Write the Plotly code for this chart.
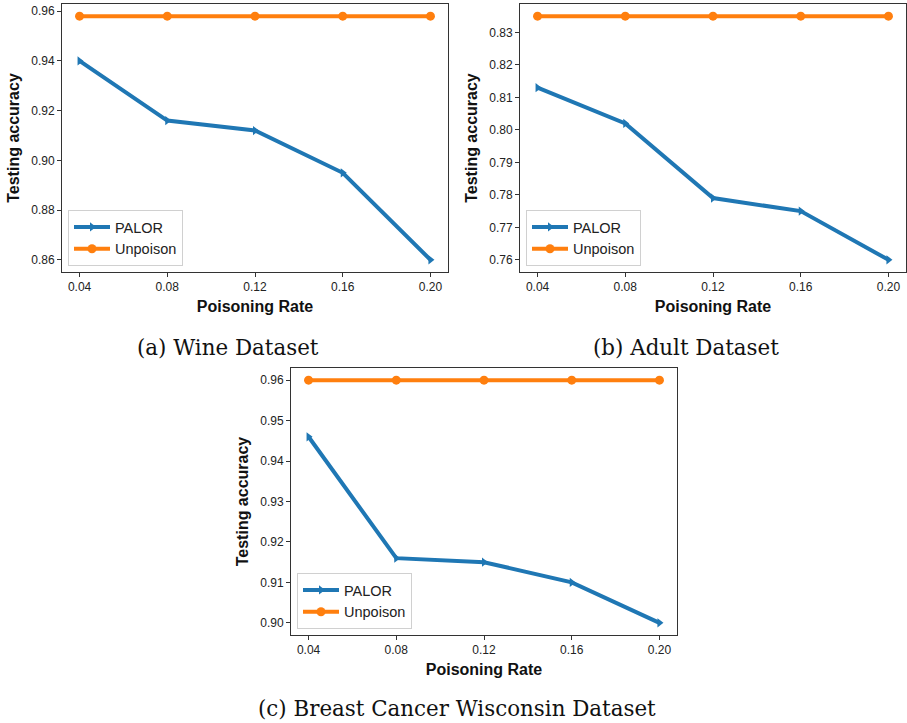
import plotly.graph_objects as go

# Poisoning rates shared by all three experiments
rates = [0.04, 0.08, 0.12, 0.16, 0.20]
rate_labels = ["0.04", "0.08", "0.12", "0.16", "0.20"]

# Testing accuracy per dataset
wine_palor = [0.940, 0.916, 0.912, 0.895, 0.860]
wine_unpoison = [0.958, 0.958, 0.958, 0.958, 0.958]

adult_palor = [0.813, 0.802, 0.779, 0.775, 0.760]
adult_unpoison = [0.835, 0.835, 0.835, 0.835, 0.835]

cancer_palor = [0.946, 0.916, 0.915, 0.910, 0.900]
cancer_unpoison = [0.960, 0.960, 0.960, 0.960, 0.960]

captions = ["(a) Wine Dataset", "(b) Adult Dataset", "(c) Breast Cancer Wisconsin Dataset"]

BLUE = "#1f77b4"
ORANGE = "#ff7f0e"
W, H = 907, 723

panels = [
    # (palor, unpoison, x-domain px, y-domain px (top, bottom), y ticks)
    (wine_palor, wine_unpoison, (62, 448), (4, 272), [0.86, 0.88, 0.90, 0.92, 0.94, 0.96]),
    (adult_palor, adult_unpoison, (520, 906), (4, 272), [0.76, 0.77, 0.78, 0.79, 0.80, 0.81, 0.82, 0.83]),
    (cancer_palor, cancer_unpoison, (291, 677), (368, 635), [0.90, 0.91, 0.92, 0.93, 0.94, 0.95, 0.96]),
]

fig = go.Figure()
sans = "Liberation Sans, Arial, sans-serif"
tick_font = dict(family=sans, size=12, color="#222")
title_font = dict(family=sans, size=16, color="#111")

for i, (palor, unp, (x0, x1), (yt, yb), yticks) in enumerate(panels):
    n = "" if i == 0 else str(i + 1)
    xa, ya = "x" + n, "y" + n
    fig.add_trace(go.Scatter(
        x=rates, y=palor, mode="lines+markers", name="PALOR",
        line=dict(color=BLUE, width=4),
        marker=dict(symbol="triangle-right", size=8, color=BLUE),
        xaxis=xa, yaxis=ya, legend="legend" + n,
    ))
    fig.add_trace(go.Scatter(
        x=rates, y=unp, mode="lines+markers", name="Unpoison",
        line=dict(color=ORANGE, width=4),
        marker=dict(symbol="circle", size=9, color=ORANGE),
        xaxis=xa, yaxis=ya, legend="legend" + n,
    ))
    lo = min(palor + unp)
    hi = max(palor + unp)
    pad = (hi - lo) * 0.05
    xpad = (rates[-1] - rates[0]) * 0.05
    axis_common = dict(
        showline=True, linecolor="#333", linewidth=1, mirror=True,
        ticks="outside", ticklen=4, tickwidth=1, tickcolor="#333",
        showgrid=False, zeroline=False, tickfont=tick_font,
    )
    fig.layout["xaxis" + n] = dict(
        domain=[x0 / W, x1 / W], anchor=ya,
        range=[rates[0] - xpad, rates[-1] + xpad],
        tickvals=rates, ticktext=rate_labels,
        title=dict(text="<b>Poisoning Rate</b>", font=title_font, standoff=7),
        **axis_common,
    )
    fig.layout["yaxis" + n] = dict(
        domain=[1 - yb / H, 1 - yt / H], anchor=xa,
        range=[lo - pad, hi + pad],
        tickvals=yticks, tickformat=".2f",
        title=dict(text="<b>Testing accuracy</b>", font=title_font, standoff=7),
        **axis_common,
    )
    fig.layout["legend" + n] = dict(
        x=(x0 + 6) / W, y=1 - (yb - 6) / H, xanchor="left", yanchor="bottom",
        bgcolor="rgba(255,255,255,0.8)", bordercolor="#d0d0d0", borderwidth=1,
        font=dict(family=sans, size=14.5, color="#222"),
        tracegroupgap=0, itemwidth=36,
    )

caption_pos = [(228, 347), (686, 347), (457, 708)]
for text, (cx, cy) in zip(captions, caption_pos):
    fig.add_annotation(
        text=text, x=cx / W, y=1 - cy / H, xref="paper", yref="paper",
        showarrow=False, xanchor="center", yanchor="middle",
        font=dict(family="DejaVu Serif, Liberation Serif, serif", size=21.4, color="#111"),
    )

fig.update_layout(
    width=W, height=H, margin=dict(l=0, r=0, t=0, b=0),
    paper_bgcolor="white", plot_bgcolor="white",
)

fig.write_html("out.html")
